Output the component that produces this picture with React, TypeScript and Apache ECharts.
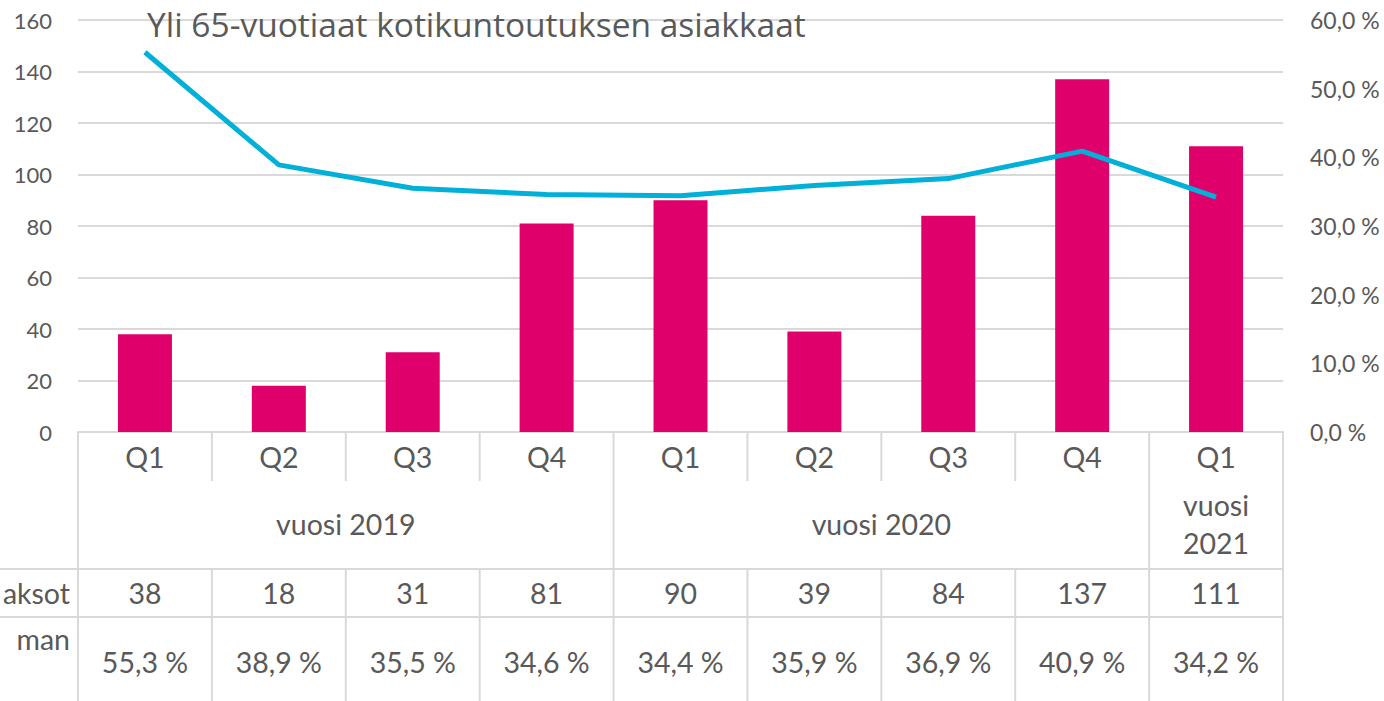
import React, { useEffect, useRef } from "react";
import * as echarts from "echarts";

const quarters = ["Q1", "Q2", "Q3", "Q4", "Q1", "Q2", "Q3", "Q4", "Q1"];
const barValues = [38, 18, 31, 81, 90, 39, 84, 137, 111];
const lineValues = [55.3, 38.9, 35.5, 34.6, 34.4, 35.9, 36.9, 40.9, 34.2];
const yearLabels = ["vuosi 2019", "vuosi 2020", "vuosi\n2021"];
const yearSpans = [4, 4, 1];
const rowLabels = ["aksot", "man"];
const leftTicks = { min: 0, max: 160, interval: 20 };
const rightTicks = { min: 0, max: 60, interval: 10 };
const title = "Yli 65-vuotiaat kotikuntoutuksen asiakkaat";

const W = 1384;
const H = 701;
const GL = 78;
const GR = 101;
const GT = 20;
const GB = 269;
const FONT = "Lato, 'Open Sans', sans-serif";
const TITLE_FONT = "'Open Sans', 'Noto Sans', sans-serif";
const TXT = "#595959";
const LINE = "#d9d9d9";

const fmtPct = (v: number) => v.toFixed(1).replace(".", ",") + " %";

export default function App() {
  const ref = useRef<HTMLDivElement>(null);
  useEffect(() => {
    if (!ref.current) return;
    const chart = echarts.init(ref.current, undefined, { renderer: "svg" });
    const plotW = W - GL - GR;
    const cellW = plotW / quarters.length;
    const axisY = H - GB;
    const cx = (i: number) => GL + cellW * (i + 0.5);
    const bx = (i: number) => GL + cellW * i;
    const rowQBottom = 481;
    const rowYearBottom = 569;
    const rowValBottom = 617;

    const g: any[] = [];
    const ln = (x1: number, y1: number, x2: number, y2: number) =>
      g.push({
        type: "line",
        shape: { x1, y1, x2, y2 },
        style: { stroke: LINE, lineWidth: 2 },
        silent: true,
      });
    const tx = (text: string, x: number, y: number, align = "center", extra: any = {}) =>
      g.push({
        type: "text",
        x,
        y,
        style: {
          text,
          fill: TXT,
          font: `28.5px ${FONT}`,
          align,
          verticalAlign: "middle",
          lineHeight: 38,
          ...extra,
        },
        silent: true,
      });

    ln(0, rowYearBottom, W - GR, rowYearBottom);
    ln(0, rowValBottom, W - GR, rowValBottom);
    let acc = 0;
    const groupBounds = [0];
    yearSpans.forEach((s) => {
      acc += s;
      groupBounds.push(acc);
    });
    for (let i = 0; i <= quarters.length; i++) {
      const x = bx(i);
      if (groupBounds.includes(i)) {
        ln(x, axisY, x, H);
      } else {
        ln(x, axisY, x, rowQBottom);
        ln(x, rowYearBottom, x, H);
      }
    }
    quarters.forEach((q, i) => tx(q, cx(i), 457));
    yearLabels.forEach((lab, k) => {
      const s = groupBounds[k];
      const e = groupBounds[k + 1];
      tx(lab, (bx(s) + bx(e)) / 2, 524);
    });
    barValues.forEach((v, i) => tx(String(v), cx(i), 593));
    lineValues.forEach((v, i) => tx(fmtPct(v), cx(i), 662));
    tx(rowLabels[0], 70, 593, "right");
    tx(rowLabels[1], 70, 639, "right");
    g.push({
      type: "text",
      x: 147,
      y: 24,
      z: 100,
      style: {
        text: title,
        fill: TXT,
        font: `33.5px ${TITLE_FONT}`,
        align: "left",
        verticalAlign: "middle",
      },
      silent: true,
    });

    chart.setOption({
      animation: false,
      backgroundColor: "#ffffff",
      textStyle: { fontFamily: FONT },
      grid: { left: GL, right: GR, top: GT, bottom: GB },
      xAxis: {
        type: "category",
        data: quarters,
        boundaryGap: true,
        axisLine: { show: true, lineStyle: { color: LINE, width: 2 } },
        axisTick: { show: false },
        axisLabel: { show: false },
      },
      yAxis: [
        {
          type: "value",
          ...leftTicks,
          position: "left",
          axisLine: { show: false },
          axisTick: { show: false },
          splitLine: { show: true, lineStyle: { color: LINE, width: 2 } },
          axisLabel: { color: TXT, fontSize: 22, margin: 26, fontFamily: FONT },
        },
        {
          type: "value",
          ...rightTicks,
          position: "right",
          axisLine: { show: false },
          axisTick: { show: false },
          splitLine: { show: false },
          axisLabel: {
            color: TXT,
            fontSize: 23,
            margin: 27,
            fontFamily: FONT,
            formatter: (v: number) => fmtPct(v),
          },
        },
      ],
      series: [
        {
          type: "bar",
          data: barValues,
          yAxisIndex: 0,
          barWidth: 54,
          itemStyle: { color: "#E0006B" },
        },
        {
          type: "line",
          data: lineValues,
          yAxisIndex: 1,
          symbol: "none",
          lineStyle: { color: "#00B0D8", width: 5 },
        },
      ],
      graphic: g,
    });
    return () => chart.dispose();
  }, []);
  return (
    <div
      ref={ref}
      style={{ position: "fixed", left: 0, top: 0, width: W, height: H, background: "#fff" }}
    />
  );
}
